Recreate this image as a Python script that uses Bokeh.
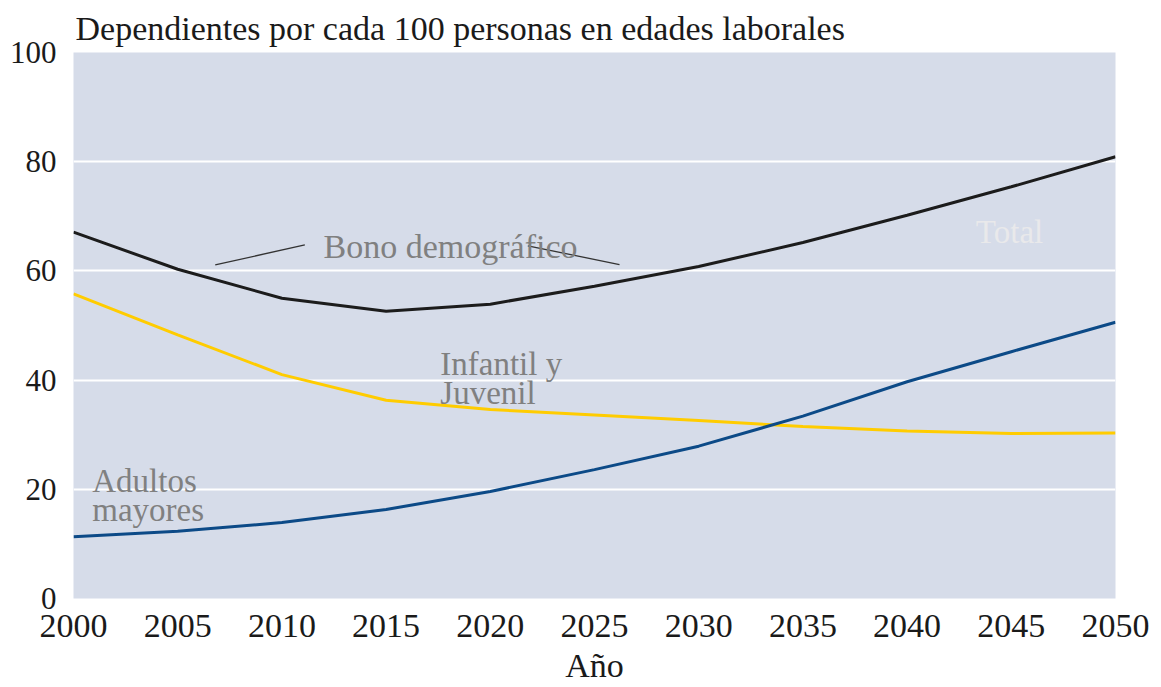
from bokeh.plotting import figure
from bokeh.models import Range1d, FixedTicker, Label
from bokeh.embed import file_html
from bokeh.resources import INLINE

# ---- data ----
years = [2000, 2005, 2010, 2015, 2020, 2025, 2030, 2035, 2040, 2045, 2050]
total = [67.1, 60.3, 55.0, 52.6, 53.9, 57.2, 60.8, 65.2, 70.2, 75.4, 80.9]
infantil_juvenil = [55.8, 48.3, 41.0, 36.3, 34.6, 33.6, 32.6, 31.5, 30.7, 30.2, 30.3]
adultos_mayores = [11.3, 12.3, 13.9, 16.3, 19.6, 23.6, 27.9, 33.4, 39.7, 45.2, 50.6]
x_ticks = [2000, 2005, 2010, 2015, 2020, 2025, 2030, 2035, 2040, 2045, 2050]
y_ticks = [0, 20, 40, 60, 80, 100]

title_text = "Dependientes por cada 100 personas en edades laborales"
x_title = "Año"

SERIF = "Liberation Serif"
BG = "#D6DCE9"
DARK = "#1a1a1a"

p = figure(width=1155, height=687, output_backend="svg", toolbar_location=None,
           x_range=Range1d(2000, 2050), y_range=Range1d(0, 100),
           min_border_left=73, min_border_right=40, min_border_top=52, min_border_bottom=89)
p.background_fill_color = BG
p.border_fill_color = "white"
p.outline_line_color = None

p.title.text = title_text
p.title.text_font = SERIF
p.title.text_font_size = "34px"
p.title.text_font_style = "normal"
p.title.text_color = DARK
p.title.align = "left"
p.title.offset = 2
p.title.standoff = 11

p.xgrid.grid_line_color = None
p.ygrid.grid_line_color = "white"
p.ygrid.grid_line_width = 2
p.ygrid.ticker = FixedTicker(ticks=y_ticks)

p.xaxis.ticker = FixedTicker(ticks=x_ticks)
p.yaxis.ticker = FixedTicker(ticks=y_ticks)
for ax in (p.xaxis, p.yaxis):
    ax.axis_line_color = None
    ax.major_tick_line_color = None
    ax.minor_tick_line_color = None
    ax.major_label_text_font = SERIF
    ax.major_label_text_color = DARK
p.xaxis.major_label_text_font_size = "34px"
p.yaxis.major_label_text_font_size = "31px"
p.xaxis.major_label_standoff = 10
p.yaxis.major_label_standoff = 11

p.xaxis.axis_label = x_title
p.xaxis.axis_label_text_font = SERIF
p.xaxis.axis_label_text_font_size = "34px"
p.xaxis.axis_label_text_font_style = "normal"
p.xaxis.axis_label_text_color = DARK
p.xaxis.axis_label_standoff = 7

# ---- series ----
p.line(years, total, line_color="#1c1c1c", line_width=3)
p.line(years, infantil_juvenil, line_color="#FFCC00", line_width=3)
p.line(years, adultos_mayores, line_color="#0C4A87", line_width=3)

# ---- annotation lines for "Bono demográfico" ----
p.line([2006.8, 2011.1], [61.1, 64.75], line_color="#333333", line_width=1.3)
p.line([2021.8, 2026.2], [64.6, 61.15], line_color="#333333", line_width=1.3)

GRAY = "#808080"
def lab(x, y, t, color=GRAY, size="33px", align="left"):
    p.add_layout(Label(x=x, y=y, text=t, text_font=SERIF, text_font_size=size,
                       text_color=color, text_align=align, text_baseline="alphabetic"))

lab(2012.0, 64.5, "Bono demográfico", size="34px")
lab(2017.6, 42.9, "Infantil y")
lab(2017.6, 37.6, "Juvenil")
lab(2000.9, 21.5, "Adultos")
lab(2000.9, 16.2, "mayores")
lab(2043.3, 67.2, "Total", color="#E9E9EB")

open("out.html", "w").write(file_html(p, INLINE))
